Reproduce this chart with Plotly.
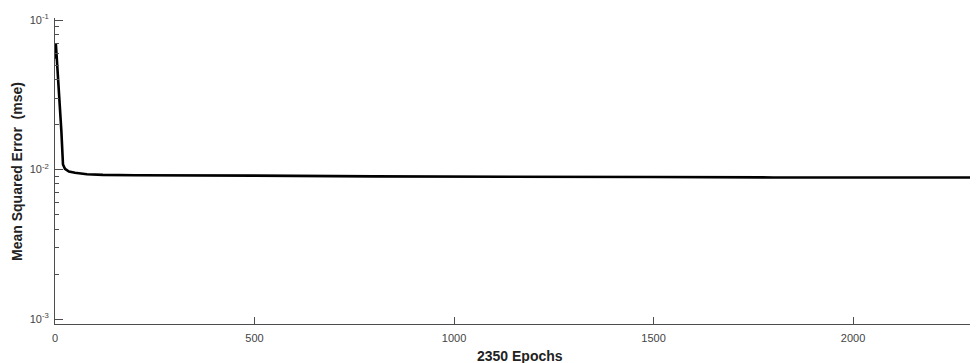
import plotly.graph_objects as go

# Training performance (mean squared error) per epoch
epochs = [0, 1, 2, 4, 8, 12, 16, 20, 25, 35, 50, 80, 120, 200, 300, 500, 800, 1000, 1300, 1500, 1800, 2000, 2350]
mse = [0.055, 0.062, 0.070, 0.058, 0.040, 0.029, 0.018, 0.0108, 0.0101, 0.0097, 0.0095, 0.0093, 0.0092, 0.00915, 0.0091, 0.0091, 0.0090, 0.0090, 0.00895, 0.0089, 0.00885, 0.00885, 0.00885]

y_major = [1e-3, 1e-2, 1e-1]
y_major_text = ["10<sup>-3</sup>", "10<sup>-2</sup>", "10<sup>-1</sup>"]
y_minor = [m * d for d in (1e-3, 1e-2) for m in range(2, 10)]
x_ticks = [0, 500, 1000, 1500, 2000]
x_title = "2350 Epochs"
y_title = "Mean Squared Error  (mse)"

fig = go.Figure()
fig.add_trace(go.Scatter(x=epochs, y=mse, mode="lines",
                         line=dict(color="black", width=2.6), showlegend=False))

axis_col = "#4d4d4d"
fig.update_layout(
    width=970, height=355,
    margin=dict(l=47, r=0, t=10, b=39),
    paper_bgcolor="white", plot_bgcolor="white",
    font=dict(family="Liberation Sans, Arial, sans-serif", size=11, color="#444"),
    xaxis=dict(range=[0, 2313], tickvals=x_ticks, ticks="inside", ticklen=7,
               tickcolor=axis_col, showline=True, linecolor=axis_col, linewidth=1,
               showgrid=False, zeroline=False, ticklabelstandoff=4),
    yaxis=dict(type="log", range=[-3.0334, -0.9866], tickvals=y_major, ticktext=y_major_text,
               ticks="inside", ticklen=8, tickcolor=axis_col, showline=True,
               linecolor=axis_col, linewidth=1, showgrid=False, zeroline=False,
               ticklabelstandoff=3,
               minor=dict(tickvals=y_minor, ticks="inside", ticklen=4, tickcolor=axis_col,
                          showgrid=False)),
    annotations=[
        dict(text="<b>" + x_title + "</b>", xref="paper", yref="paper", x=0.504, y=-0.105,
             xanchor="center", yanchor="middle", showarrow=False,
             font=dict(size=14, color="#222")),
        dict(text="<b>" + y_title + "</b>", xref="paper", yref="paper", x=-0.0412, y=0.50,
             xanchor="center", yanchor="middle", showarrow=False, textangle=-90,
             font=dict(size=14, color="#222")),
    ],
)

fig.write_html("out.html")
